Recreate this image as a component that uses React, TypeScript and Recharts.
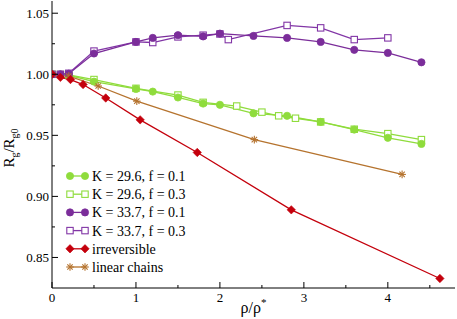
import React from 'react';
import { LineChart, Line, XAxis, YAxis, Legend } from 'recharts';

const SERIF = '"Liberation Serif", "Times New Roman", serif';

// K = 29.6, f = 0.1
const k296f01X = [0, 0.1, 0.2, 0.5, 1.0, 1.2, 1.5, 1.8, 2.0, 2.4, 2.8, 3.2, 3.6, 4.0, 4.4];
const k296f01Y = [1.0, 0.9997, 0.9992, 0.994, 0.988, 0.9858, 0.981, 0.976, 0.975, 0.968, 0.966, 0.961, 0.9547, 0.948, 0.943];
// K = 29.6, f = 0.3
const k296f03X = [0, 0.1, 0.2, 0.5, 1.0, 1.5, 1.8, 2.2, 2.5, 2.7, 2.9, 3.2, 3.6, 4.0, 4.4];
const k296f03Y = [1.0, 0.9998, 0.9995, 0.9957, 0.9885, 0.983, 0.977, 0.974, 0.969, 0.966, 0.964, 0.961, 0.955, 0.9514, 0.9465];
// K = 33.7, f = 0.1
const k337f01X = [0, 0.1, 0.2, 0.5, 1.0, 1.2, 1.5, 1.8, 2.0, 2.4, 2.8, 3.2, 3.6, 4.0, 4.4];
const k337f01Y = [1.0, 1.0, 1.0005, 1.017, 1.0265, 1.0298, 1.032, 1.031, 1.0333, 1.0314, 1.0298, 1.0265, 1.02, 1.0175, 1.0098];
// K = 33.7, f = 0.3
const k337f03X = [0, 0.1, 0.2, 0.5, 1.0, 1.2, 1.5, 1.8, 2.0, 2.1, 2.8, 3.2, 3.6, 4.0];
const k337f03Y = [1.0, 1.0, 1.0008, 1.019, 1.0265, 1.026, 1.0306, 1.032, 1.033, 1.0284, 1.04, 1.038, 1.0284, 1.0298];
// irreversible
const irrX = [0, 0.1, 0.22, 0.37, 0.64, 1.05, 1.73, 2.85, 4.62];
const irrY = [1.0, 0.9975, 0.9957, 0.9916, 0.9806, 0.9627, 0.936, 0.889, 0.8328];
// linear chains
const linX = [0, 0.2, 0.55, 1.01, 2.41, 4.17];
const linY = [1.0, 0.9985, 0.9904, 0.978, 0.9465, 0.918];

const xMajor = [0, 1, 2, 3, 4];
const xMinor = [0.5, 1.5, 2.5, 3.5, 4.5];
const yMajor = [0.85, 0.9, 0.95, 1.0, 1.05];
const yMinor = [0.875, 0.925, 0.975, 1.025];

const toData = (xs: number[], ys: number[]) => xs.map((x, i) => ({ x, y: ys[i] }));

type Kind = 'circle' | 'square' | 'diamond' | 'star';

const series = [
  { name: 'K = 29.6, f = 0.3', color: '#8fdc3c', kind: 'square' as Kind, data: toData(k296f03X, k296f03Y), order: 1 },
  { name: 'K = 29.6, f = 0.1', color: '#8fdc3c', kind: 'circle' as Kind, data: toData(k296f01X, k296f01Y), order: 0 },
  { name: 'K = 33.7, f = 0.3', color: '#8236a6', kind: 'square' as Kind, data: toData(k337f03X, k337f03Y), order: 3 },
  { name: 'K = 33.7, f = 0.1', color: '#7b2d9a', kind: 'circle' as Kind, data: toData(k337f01X, k337f01Y), order: 2 },
  { name: 'linear chains', color: '#b5732e', kind: 'star' as Kind, data: toData(linX, linY), order: 5 },
  { name: 'irreversible', color: '#c4000c', kind: 'diamond' as Kind, data: toData(irrX, irrY), order: 4 },
];

const Marker = ({ cx, cy, kind, color }: { cx: number; cy: number; kind: Kind; color: string }) => {
  if (cx == null || cy == null || isNaN(cx) || isNaN(cy)) return null;
  if (kind === 'circle') return <circle cx={cx} cy={cy} r={3.6} fill={color} stroke={color} strokeWidth={0.8} />;
  if (kind === 'square')
    return <rect x={cx - 3.2} y={cy - 3.2} width={6.4} height={6.4} fill="#fff" stroke={color} strokeWidth={1.1} />;
  if (kind === 'diamond')
    return (
      <polygon
        points={`${cx},${cy - 4.2} ${cx + 4.2},${cy} ${cx},${cy + 4.2} ${cx - 4.2},${cy}`}
        fill={color}
        stroke={color}
        strokeWidth={0.6}
      />
    );
  const r = 3.8;
  const d = r * 0.707;
  return (
    <g stroke={color} strokeWidth={1.1}>
      <line x1={cx - r} y1={cy} x2={cx + r} y2={cy} />
      <line x1={cx} y1={cy - r} x2={cx} y2={cy + r} />
      <line x1={cx - d} y1={cy - d} x2={cx + d} y2={cy + d} />
      <line x1={cx - d} y1={cy + d} x2={cx + d} y2={cy - d} />
    </g>
  );
};

const isMajorX = (v: number) => Math.abs(v - Math.round(v)) < 1e-6;
const isMajorY = (v: number) => Math.abs(v * 20 - Math.round(v * 20)) < 1e-6;

const BottomTick = (p: any) => {
  const v = p.payload.value;
  const major = isMajorX(v);
  return (
    <g>
      <line x1={p.x} y1={p.y} x2={p.x} y2={p.y - (major ? 6 : 3)} stroke="#000" />
      {major && (
        <text x={p.x} y={p.y + 14} textAnchor="middle" fontSize={13} fontFamily={SERIF} fill="#000">
          {v}
        </text>
      )}
    </g>
  );
};
const TopTick = (p: any) => {
  const major = isMajorX(p.payload.value);
  return <line x1={p.x} y1={p.y} x2={p.x} y2={p.y + (major ? 6 : 3)} stroke="#000" />;
};
const LeftTick = (p: any) => {
  const v = p.payload.value;
  const major = isMajorY(v);
  return (
    <g>
      <line x1={p.x} y1={p.y} x2={p.x + (major ? 6 : 3)} y2={p.y} stroke="#000" />
      {major && (
        <text x={p.x - 3} y={p.y + 4.5} textAnchor="end" fontSize={13} fontFamily={SERIF} fill="#000">
          {v.toFixed(2)}
        </text>
      )}
    </g>
  );
};
const RightTick = (p: any) => {
  const major = isMajorY(p.payload.value);
  return <line x1={p.x} y1={p.y} x2={p.x - (major ? 6 : 3)} y2={p.y} stroke="#000" />;
};

const legendOrder = [...series].sort((a, b) => a.order - b.order);

const LegendBox = () => (
  <svg width={140} height={112} style={{ display: 'block' }}>
    {legendOrder.map((s, i) => {
      const cy = 10 + i * 18.2;
      return (
        <g key={s.name}>
          <line x1={12} y1={cy} x2={27} y2={cy} stroke={s.color} strokeWidth={1.3} />
          <Marker cx={12} cy={cy} kind={s.kind} color={s.color} />
          <Marker cx={27} cy={cy} kind={s.kind} color={s.color} />
          <text x={34} y={cy + 5} fontSize={14} fontFamily={SERIF} fill="#000">
            {s.name}
          </text>
        </g>
      );
    })}
  </svg>
);

const YLabel = (p: any) => {
  const cx = 14;
  const cy = 148;
  return (
    <text
      transform={`translate(${cx},${cy}) rotate(-90)`}
      textAnchor="middle"
      fontSize={15}
      fontFamily={SERIF}
      fill="#000"
    >
      <tspan>R</tspan>
      <tspan fontSize={10} dy={4}>g</tspan>
      <tspan dy={-4}>/R</tspan>
      <tspan fontSize={10} dy={4}>g0</tspan>
    </text>
  );
};

const XLabel = (p: any) => {
  const vb = p.viewBox || { x: 52, width: 403, y: 288 };
  const cx = vb.x + vb.width / 2;
  return (
    <text x={cx} y={313} textAnchor="middle" fontSize={16} fontFamily={SERIF} fill="#000">
      <tspan>ρ/ρ</tspan>
      <tspan fontSize={11} dy={-7}>*</tspan>
    </text>
  );
};

export default function App() {
  return (
    <div style={{ position: 'absolute', left: 0, top: 0, width: 457, height: 319, background: '#fff' }}>
      <LineChart width={457} height={319} margin={{ top: 1, right: 2, bottom: 0, left: 0 }}>
        <XAxis
          xAxisId="x"
          dataKey="x"
          type="number"
          domain={[0, 4.8]}
          allowDataOverflow
          ticks={[...xMajor, ...xMinor].sort((a, b) => a - b)}
          interval={0}
          height={31}
          tickLine={false}
          tickSize={0}
          tickMargin={0}
          axisLine={{ stroke: '#000' }}
          tick={BottomTick}
          label={{ content: XLabel }}
        />
        <XAxis
          xAxisId="top"
          orientation="top"
          type="number"
          domain={[0, 4.8]}
          allowDataOverflow
          ticks={[...xMajor, ...xMinor].sort((a, b) => a - b)}
          interval={0}
          height={0}
          tickLine={false}
          tickSize={0}
          tickMargin={0}
          axisLine={{ stroke: '#000' }}
          tick={TopTick}
        />
        <YAxis
          yAxisId="y"
          type="number"
          domain={[0.825, 1.06]}
          allowDataOverflow
          ticks={[...yMajor, ...yMinor].sort((a, b) => a - b)}
          interval={0}
          width={52}
          tickLine={false}
          tickSize={0}
          tickMargin={0}
          axisLine={{ stroke: '#000' }}
          tick={LeftTick}
          label={{ content: YLabel }}
        />
        <YAxis
          yAxisId="right"
          orientation="right"
          type="number"
          domain={[0.825, 1.06]}
          allowDataOverflow
          ticks={[...yMajor, ...yMinor].sort((a, b) => a - b)}
          interval={0}
          width={0}
          tickLine={false}
          tickSize={0}
          tickMargin={0}
          axisLine={{ stroke: '#000' }}
          tick={RightTick}
        />
        {series.map((s) => (
          <Line
            key={s.name}
            xAxisId="x"
            yAxisId="y"
            data={s.data}
            dataKey="y"
            name={s.name}
            type="linear"
            stroke={s.color}
            strokeWidth={1.3}
            isAnimationActive={false}
            dot={(dp: any) => <Marker key={`${s.name}-${dp.index}`} cx={dp.cx} cy={dp.cy} kind={s.kind} color={s.color} />}
            activeDot={false}
          />
        ))}
        <Legend
          layout="vertical"
          align="center"
          verticalAlign="middle"
          content={() => <LegendBox />}
          wrapperStyle={{ position: 'absolute', left: 58, top: 166, width: 140, height: 112 }}
        />
      </LineChart>
    </div>
  );
}
